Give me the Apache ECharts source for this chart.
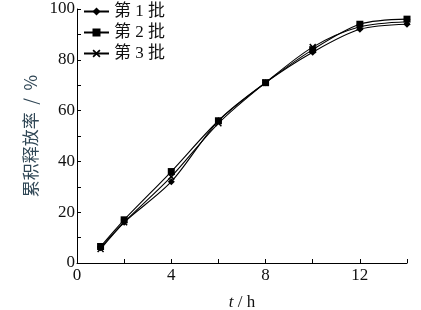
<!DOCTYPE html>
<html><head><meta charset="utf-8">
<script src="https://cdn.jsdelivr.net/npm/echarts@6/dist/echarts.min.js"></script>
<style>html,body{margin:0;padding:0;background:#fff}#c{width:421px;height:310px}</style>
</head><body><div id="c"></div>
<script>
const times = [1, 2, 4, 6, 8, 10, 12, 14];
const batch1 = [6, 16, 32, 56, 71, 83, 92, 94];
const batch2 = [6.5, 17, 36, 56, 71, 84, 94, 96];
const batch3 = [5.5, 16, 34, 55, 71, 85, 93, 95];
const seriesNames = ['第 1 批', '第 2 批', '第 3 批'];
const xTickLabels = [0, 4, 8, 12];
const yTickLabels = [0, 20, 40, 60, 80, 100];

const font = '"Liberation Serif", "Times New Roman", "Noto Sans CJK SC", serif';
const xPath = 'path://M0,1.5L1.5,0L5,3.5L8.5,0L10,1.5L6.5,5L10,8.5L8.5,10L5,6.5L1.5,10L0,8.5L3.5,5Z';
const symbols = ['diamond', 'rect', xPath];
const sizes = [7, 7, 7];
const data = [batch1, batch2, batch3];

const chart = echarts.init(document.getElementById('c'), null, {renderer: 'canvas'});
chart.setOption({
  animation: false,
  backgroundColor: '#fff',
  grid: {left: 77, top: 9, right: 14, bottom: 47, containLabel: false, outerBoundsMode: 'none'},
  legend: {
    orient: 'vertical', left: 83, top: 3, padding: 0, itemWidth: 25, itemHeight: 10, itemGap: 4,
    textStyle: {fontFamily: font, fontSize: 17, color: '#111'},
    data: seriesNames
  },
  xAxis: {
    type: 'value', min: 0, max: 14, interval: 2,
    axisLine: {show: true, lineStyle: {color: '#000', width: 1}},
    axisTick: {show: true, inside: true, length: 4, lineStyle: {color: '#000'}},
    splitLine: {show: false},
    axisLabel: {fontFamily: font, fontSize: 17, color: '#111', margin: 4,
      formatter: v => xTickLabels.includes(v) ? String(v) : ''},
    name: '{i|t} / h', nameLocation: 'middle', nameGap: 31,
    nameTextStyle: {fontFamily: font, fontSize: 17, color: '#111',
      rich: {i: {fontFamily: font, fontStyle: 'italic', fontSize: 17, color: '#111'}}}
  },
  yAxis: {
    type: 'value', min: 0, max: 100, interval: 10,
    axisLine: {show: true, lineStyle: {color: '#000', width: 1}},
    axisTick: {show: true, inside: true, length: 4, lineStyle: {color: '#000'}},
    splitLine: {show: false},
    axisLabel: {fontFamily: font, fontSize: 17, color: '#111', margin: 2,
      formatter: v => yTickLabels.includes(v) ? String(v) : ''},
    name: '累积释放率  /  %', nameLocation: 'middle', nameGap: 37, nameRotate: 90,
    nameTextStyle: {fontFamily: '"Noto Sans CJK SC", sans-serif', fontSize: 17, color: '#2f4655'}
  },
  series: seriesNames.map((n, i) => ({
    name: n, type: 'line', smooth: 0.3,
    data: times.map((t, j) => [t, data[i][j]]),
    symbol: symbols[i], symbolSize: sizes[i], showSymbol: true,
    lineStyle: {color: '#000', width: 1.1},
    itemStyle: {color: '#000', borderWidth: 0}
  }))
});
</script></body></html>
